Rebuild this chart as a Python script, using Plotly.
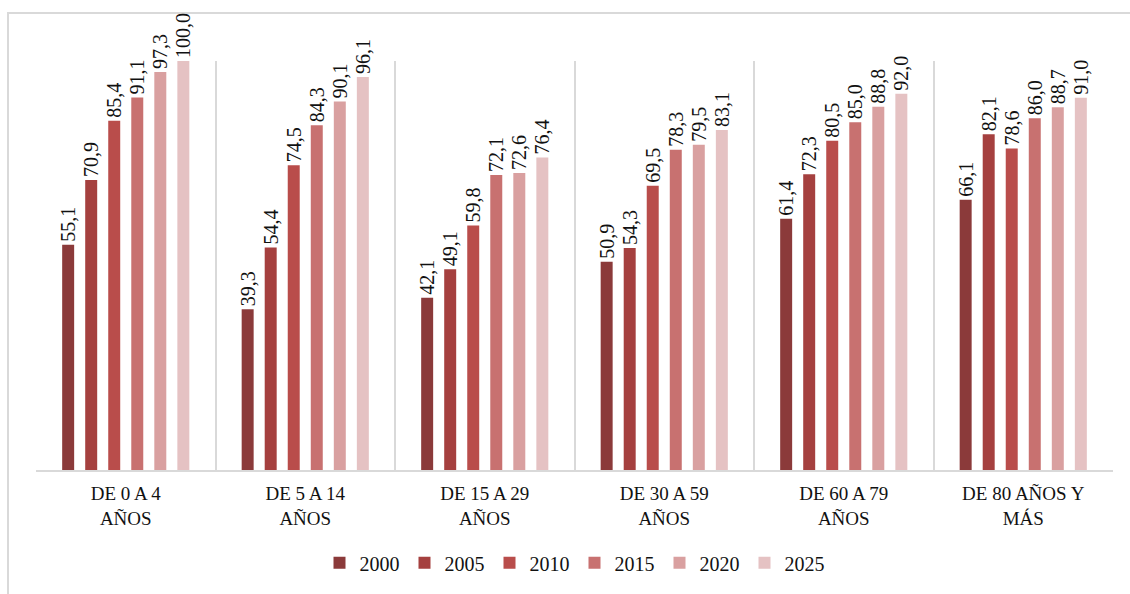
import plotly.graph_objects as go

categories = ["DE 0 A 4<br>AÑOS", "DE 5 A 14<br>AÑOS", "DE 15 A 29<br>AÑOS",
              "DE 30 A 59<br>AÑOS", "DE 60 A 79<br>AÑOS", "DE 80 AÑOS Y<br>MÁS"]
years = ["2000", "2005", "2010", "2015", "2020", "2025"]
v2000 = [55.1, 39.3, 42.1, 50.9, 61.4, 66.1]
v2005 = [70.9, 54.4, 49.1, 54.3, 72.3, 82.1]
v2010 = [85.4, 74.5, 59.8, 69.5, 80.5, 78.6]
v2015 = [91.1, 84.3, 72.1, 78.3, 85.0, 86.0]
v2020 = [97.3, 90.1, 72.6, 79.5, 88.8, 88.7]
v2025 = [100.0, 96.1, 76.4, 83.1, 92.0, 91.0]
series = [v2000, v2005, v2010, v2015, v2020, v2025]
colors = ["#8B3A3A", "#A5403F", "#B94D4B", "#C87170", "#D9A0A0", "#E5C2C3"]

FONT = "Liberation Serif"

fig = go.Figure()
for yr, vals, col in zip(years, series, colors):
    fig.add_trace(go.Bar(
        name=yr, x=categories, y=vals, marker=dict(color=col, line=dict(width=0)),
        texttemplate="%{y:.1f}", textposition="outside", textangle=-90,
        constraintext="none", cliponaxis=False,
        textfont=dict(family=FONT, size=20, color="#111111"),
    ))

fig.update_layout(
    width=1130, height=594,
    margin=dict(l=36, r=17, t=61, b=124),
    paper_bgcolor="white", plot_bgcolor="white",
    barmode="group", bargap=0.23, bargroupgap=0.48,
    separators=", ",
    font=dict(family=FONT, color="#111111"),
    showlegend=True,
    legend=dict(orientation="h", x=0.5, xanchor="center", y=-0.227, yanchor="middle",
                font=dict(family=FONT, size=20, color="#111111"), itemwidth=30,
                traceorder="normal"),
    xaxis=dict(type="category", range=[-0.5, 5.5], showgrid=True, gridcolor="#d9d9d9",
               gridwidth=2, tickson="boundaries", ticks="", showline=True,
               linecolor="#d9d9d9", linewidth=2, ticklabelstandoff=5,
               tickfont=dict(family=FONT, size=19, color="#111111")),
    yaxis=dict(range=[0, 100], visible=False, showgrid=False, zeroline=False),
    shapes=[dict(type="rect", xref="paper", yref="paper", x0=-0.026, x1=1.03,
                 y0=-0.35, y1=1.1174, line=dict(color="#d9d9d9", width=2),
                 fillcolor="rgba(0,0,0,0)", layer="below")],
)

fig.write_html("out.html")
